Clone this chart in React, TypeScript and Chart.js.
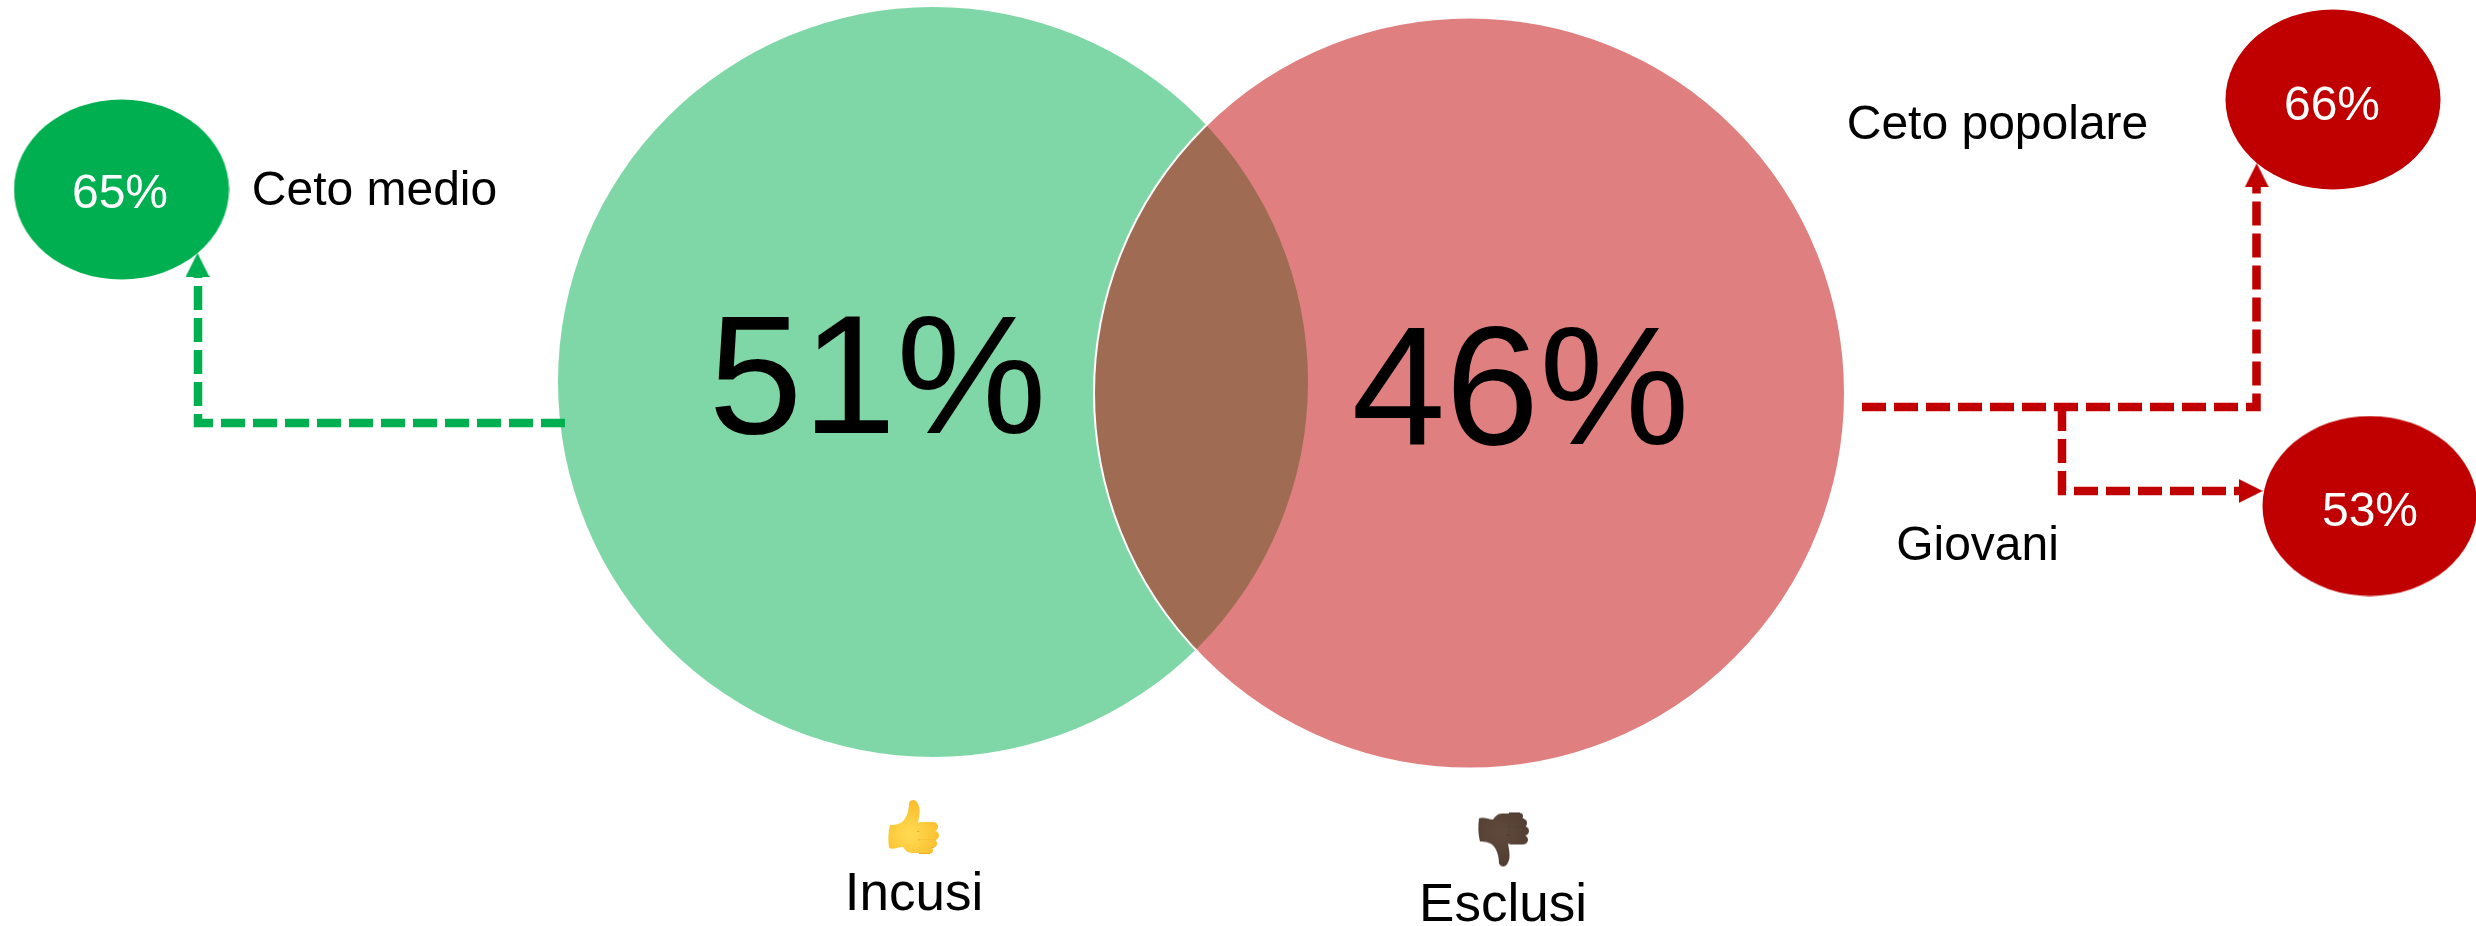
import React, { useEffect, useRef } from "react";
import { Chart, registerables, BubbleController, ScatterController } from "chart.js";

Chart.register(...registerables);

// The diagram's marks sit on a full-canvas scale, so they must not reserve any layout padding.
(BubbleController.prototype as any).getMaxOverflow = () => 0;
(ScatterController.prototype as any).getMaxOverflow = () => 0;

const WIDTH = 2476;
const HEIGHT = 926;

const GREEN = "#00B050";
const RED = "#C00000";
const FONT = '"Liberation Sans", Arial, sans-serif';

// big overlapping circles
const circleX = [933, 1469.5];
const circleY = [382, 393];
const circleR = [375, 375.5];
const circleValues = [51, 46];
const circleValueX = [877.5, 1520.5];
const circleValueY = [433, 444];

// small ellipses
const ellipseNames = ["Ceto medio", "Ceto popolare", "Giovani"];
const ellipseValues = [65, 66, 53];
const ellipseX = [121.5, 2333, 2370];
const ellipseY = [189.5, 99.5, 506];
const ellipseValueX = [120, 2332, 2370];
const ellipseValueY = [208, 120, 526];
const nameX = [374.5, 1997.5, 1977.5];
const nameY = [205, 139, 560];

// connectors
const greenPathX = [565, 198, 198];
const greenPathY = [423, 423, 276];
const redPathX = [1862, 2256.5, 2256.5];
const redPathY = [407, 407, 186];
const redBranchX = [2062, 2062, 2239];
const redBranchY = [407, 491, 491];
const arrowX = [197.5, 2256.7, 2250.7];
const arrowY = [265, 175.3, 491];
const arrowAngle = [0, 0, 90];

// bottom captions
const captions = ["Incusi", "Esclusi"];
const captionX = [914, 1503];
const captionY = [910, 921];
const handX = [913, 1503];
const handY = [827, 839.5];

function ellipseCanvas(color: string) {
  const c = document.createElement("canvas");
  c.width = 216;
  c.height = 181;
  const g = c.getContext("2d")!;
  g.fillStyle = color;
  g.beginPath();
  g.ellipse(108, 90.5, 107.5, 90, 0, 0, Math.PI * 2);
  g.fill();
  return c;
}

function arrowCanvas(color: string) {
  const c = document.createElement("canvas");
  c.width = 24;
  c.height = 24;
  const g = c.getContext("2d")!;
  g.fillStyle = color;
  g.beginPath();
  g.moveTo(12, 0);
  g.lineTo(24, 24);
  g.lineTo(0, 24);
  g.closePath();
  g.fill();
  return c;
}

function handCanvas(up: boolean) {
  const c = document.createElement("canvas");
  c.width = 52;
  c.height = 56;
  const g = c.getContext("2d")!;
  if (!up) {
    g.translate(0, 56);
    g.scale(1, -1);
  }
  g.translate(1, 1);
  const edge = up ? "#EFA81E" : "#46342B";
  const grad = g.createRadialGradient(22, 34, 4, 22, 34, 34);
  grad.addColorStop(0, up ? "#FFD84F" : "#5E483C");
  grad.addColorStop(1, up ? "#F9BC2A" : "#523D32");
  // palm and thumb
  g.fillStyle = grad;
  g.beginPath();
  g.moveTo(21, 3);
  g.bezierCurveTo(23, -1, 28, -1, 30, 4);
  g.bezierCurveTo(33, 9, 31, 17, 30, 23);
  g.lineTo(34, 53);
  g.lineTo(24, 53);
  g.bezierCurveTo(20, 53, 17, 50, 15, 47);
  g.bezierCurveTo(10, 47, 5, 50, 1, 48);
  g.bezierCurveTo(0, 41, 0, 32, 2, 25);
  g.bezierCurveTo(8, 25, 11, 24, 14, 22);
  g.bezierCurveTo(19, 18, 21, 10, 21, 3);
  g.closePath();
  g.fill();
  // fingers
  const tops = [22, 31, 39.5, 47];
  const lefts = [28, 29, 30, 30];
  const rights = [50, 51, 49, 45];
  const heights = [9.5, 9, 8, 6.5];
  tops.forEach((t, i) => {
    g.fillStyle = grad;
    g.strokeStyle = edge;
    g.lineWidth = 1;
    g.beginPath();
    g.roundRect(lefts[i], t, rights[i] - lefts[i], heights[i], heights[i] / 2);
    g.fill();
    g.beginPath();
    g.moveTo(lefts[i] + 1, t + heights[i]);
    g.lineTo(rights[i] - 3, t + heights[i]);
    g.stroke();
  });
  return c;
}

const textPlugin = {
  id: "diagramText",
  afterDatasetsDraw(chart: any) {
    const { ctx, scales } = chart;
    const put = (s: string, x: number, y: number, size: number, color: string) => {
      ctx.save();
      ctx.font = `${size}px ${FONT}`;
      ctx.fillStyle = color;
      ctx.textAlign = "center";
      ctx.textBaseline = "alphabetic";
      ctx.fillText(s, scales.x.getPixelForValue(x), scales.y.getPixelForValue(y));
      ctx.restore();
    };
    circleValues.forEach((v, i) => put(`${v}%`, circleValueX[i], circleValueY[i], 169, "#000000"));
    ellipseValues.forEach((v, i) => put(`${v}%`, ellipseValueX[i], ellipseValueY[i], 48, "#FFFFFF"));
    ellipseNames.forEach((n, i) => put(n, nameX[i], nameY[i], 48, "#000000"));
    captions.forEach((n, i) => put(n, captionX[i], captionY[i], 53, "#000000"));
  },
};

const zip = (xs: number[], ys: number[]) => xs.map((x, i) => ({ x, y: ys[i] }));

export default function App() {
  const ref = useRef<HTMLCanvasElement>(null);

  useEffect(() => {
    const dash = {
      type: "line",
      borderWidth: 8.5,
      borderDash: [24, 8],
      borderCapStyle: "butt",
      borderJoinStyle: "miter",
      pointRadius: 0,
      tension: 0,
      fill: false,
    };
    const chart = new Chart(ref.current!, {
      type: "scatter",
      data: {
        datasets: [
          {
            type: "bubble",
            label: "Incusi",
            order: 6,
            data: [{ x: circleX[0], y: circleY[0], r: circleR[0] }],
            backgroundColor: "rgba(0,176,80,0.5)",
            borderWidth: 0,
          },
          {
            type: "bubble",
            label: "Esclusi",
            order: 5,
            data: [{ x: circleX[1], y: circleY[1], r: circleR[1] }],
            backgroundColor: "rgba(192,0,0,0.5)",
            borderColor: "#FFFFFF",
            borderWidth: 2,
          },
          { ...dash, label: "verde", order: 4, data: zip(greenPathX, greenPathY), borderColor: GREEN },
          { ...dash, label: "rosso", order: 4, data: zip(redPathX, redPathY), borderColor: RED },
          { ...dash, label: "giovani", order: 4, data: zip(redBranchX, redBranchY), borderColor: RED },
          {
            label: "gruppi",
            order: 3,
            data: zip(ellipseX, ellipseY),
            pointRadius: 5,
            pointBorderWidth: 0,
            pointStyle: [ellipseCanvas(GREEN), ellipseCanvas(RED), ellipseCanvas(RED)],
          },
          {
            label: "frecce",
            order: 2,
            data: zip(arrowX, arrowY),
            pointRadius: 5,
            pointBorderWidth: 0,
            pointRotation: arrowAngle,
            pointStyle: [arrowCanvas(GREEN), arrowCanvas(RED), arrowCanvas(RED)],
          },
          {
            label: "mani",
            order: 1,
            data: zip(handX, handY),
            pointRadius: 5,
            pointBorderWidth: 0,
            pointStyle: [handCanvas(true), handCanvas(false)],
          },
        ],
      },
      options: {
        animation: false,
        responsive: false,
        maintainAspectRatio: false,
        devicePixelRatio: 1,
        layout: { padding: 0 },
        events: [],
        plugins: { legend: { display: false }, tooltip: { enabled: false } },
        scales: {
          x: { type: "linear", display: false, min: 0, max: WIDTH },
          y: { type: "linear", display: false, min: 0, max: HEIGHT, reverse: true },
        },
      },
      plugins: [textPlugin],
    } as any);
    return () => chart.destroy();
  }, []);

  return (
    <div style={{ position: "fixed", left: 0, top: 0, width: WIDTH, height: HEIGHT, background: "#FFFFFF" }}>
      <canvas ref={ref} width={WIDTH} height={HEIGHT} style={{ display: "block" }} />
    </div>
  );
}
